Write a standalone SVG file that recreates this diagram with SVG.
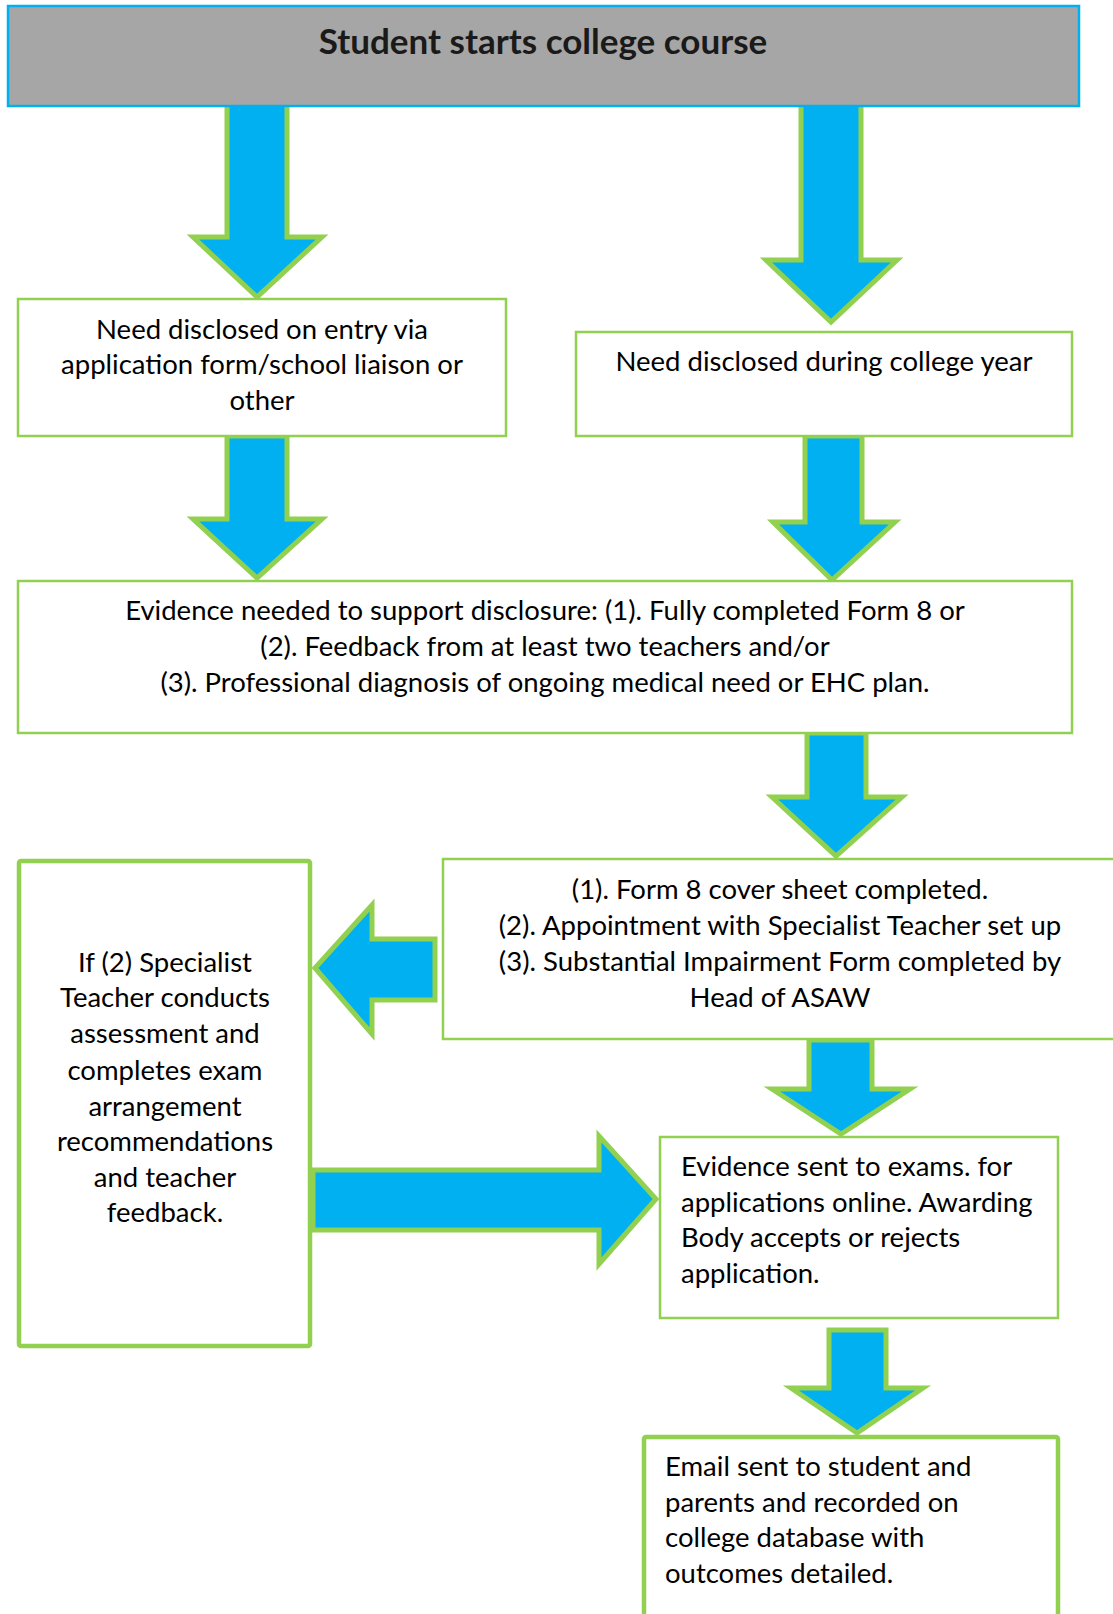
<svg xmlns="http://www.w3.org/2000/svg" width="1113" height="1614" viewBox="0 0 1113 1614">
<style>
.box{fill:#fff;stroke:#92D050;stroke-width:2.5}
.thick{stroke-width:4.5}
.arrow{fill:#00B0F0;stroke:#92D050;stroke-width:5;stroke-linejoin:miter}
.t{font-family:Lato,"Noto Sans",sans-serif;font-size:27.5px;fill:#000}
.c{text-anchor:middle}
.title{font-family:Lato,"Noto Sans",sans-serif;font-size:35px;font-weight:bold;fill:#1a1a1a;text-anchor:middle}
</style>
<rect width="1113" height="1614" fill="#fff"/>
<g id="connectors">
<polygon class="arrow" points="227,104 287,104 287,237 322,237 257,297 193,237 227,237"/>
<polygon class="arrow" points="801,104 861,104 861,260 897,260 831,322 766,260 801,260"/>
<polygon class="arrow" points="227,436 287,436 287,519 322,519 257,578 193,519 227,519"/>
<polygon class="arrow" points="805,436 862,436 862,522 895,522 832,580 773,522 805,522"/>
<polygon class="arrow" points="807,733 866,733 866,797 902,797 836,856 772,797 807,797"/>
<polygon class="arrow" points="435,939 372,939 372,905 315,968 372,1034 372,1000 435,1000"/>
<polygon class="arrow" points="809,1040 872,1040 872,1089 910,1089 841,1134 772,1089 809,1089"/>
<polygon class="arrow" points="313,1170 599,1170 599,1136 656,1199 599,1264 599,1230 313,1230"/>
<polygon class="arrow" points="829,1330 886,1330 886,1388 923,1388 857,1433 791,1388 829,1388"/>
</g>
<g id="start">
<rect x="8" y="6" width="1071" height="100" fill="#A6A6A6" stroke="#00B0F0" stroke-width="2.5"/>
<text class="title" x="543" y="54">Student starts college course</text>
</g>
<g id="entry">
<rect class="box" x="18" y="299" width="488" height="137"/>
<text class="t c" x="262" y="338.5">Need disclosed on entry via</text>
<text class="t c" x="262" y="374">application form/school liaison or</text>
<text class="t c" x="262" y="409.5">other</text>
</g>
<g id="during">
<rect class="box" x="576" y="332" width="496" height="104"/>
<text class="t c" x="824" y="371">Need disclosed during college year</text>
</g>
<g id="evidence">
<rect class="box" x="18" y="581" width="1054" height="152"/>
<text class="t c" x="545" y="619.5">Evidence needed to support disclosure: (1). Fully completed Form 8 or</text>
<text class="t c" x="545" y="655.5">(2). Feedback from at least two teachers and/or</text>
<text class="t c" x="545" y="691.5">(3). Professional diagnosis of ongoing medical need or EHC plan.</text>
</g>
<g id="form8">
<rect class="box" x="443" y="859" width="720" height="180"/>
<text class="t c" x="780" y="898.5">(1). Form 8 cover sheet completed.</text>
<text class="t c" x="780" y="934.5">(2). Appointment with Specialist Teacher set up</text>
<text class="t c" x="780" y="970.5">(3). Substantial Impairment Form completed by</text>
<text class="t c" x="780" y="1006.5">Head of ASAW</text>
</g>
<g id="specialist">
<rect class="box thick" x="19" y="861" width="291" height="485" rx="2"/>
<text class="t c" x="165" y="971.5">If (2) Specialist</text>
<text class="t c" x="165" y="1006.5">Teacher conducts</text>
<text class="t c" x="165" y="1042.5">assessment and</text>
<text class="t c" x="165" y="1079.5">completes exam</text>
<text class="t c" x="165" y="1115.5">arrangement</text>
<text class="t c" x="165" y="1151">recommendations</text>
<text class="t c" x="165" y="1186.5">and teacher</text>
<text class="t c" x="165" y="1222">feedback.</text>
</g>
<g id="sent">
<rect class="box" x="660" y="1137" width="398" height="181" stroke-width="3"/>
<text class="t" x="681" y="1175.5">Evidence sent to exams. for</text>
<text class="t" x="681" y="1211.5">applications online. Awarding</text>
<text class="t" x="681" y="1246.5">Body accepts or rejects</text>
<text class="t" x="681" y="1282.5">application.</text>
</g>
<g id="email">
<rect class="box thick" x="644" y="1437" width="414" height="200" rx="2"/>
<text class="t" x="665" y="1476">Email sent to student and</text>
<text class="t" x="665" y="1512">parents and recorded on</text>
<text class="t" x="665" y="1547">college database with</text>
<text class="t" x="665" y="1583">outcomes detailed.</text>
</g>
</svg>
